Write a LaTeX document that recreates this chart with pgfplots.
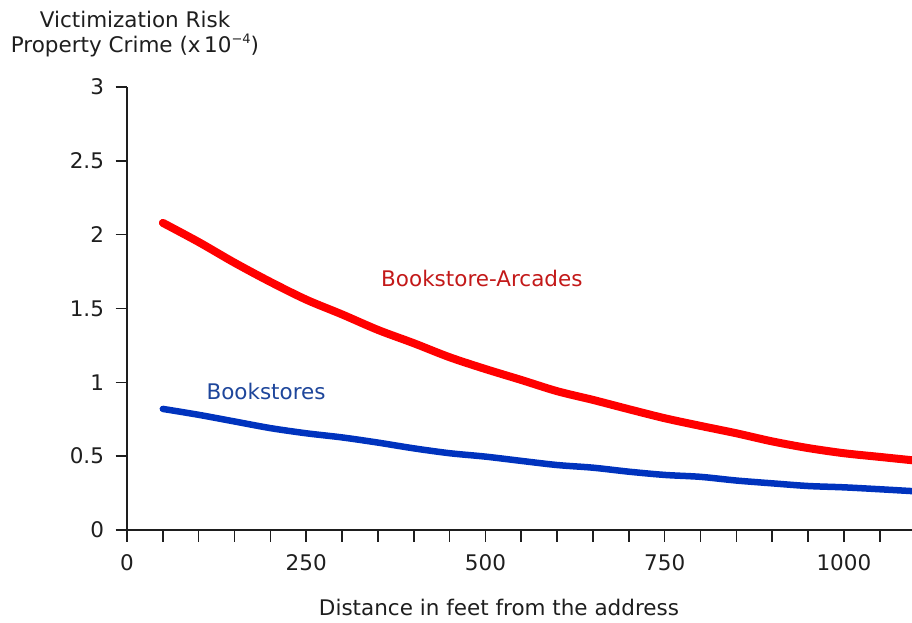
\documentclass[border=0pt]{standalone}
\usepackage{fontspec}
\setmainfont{DejaVu Sans}
\usepackage{pgfplots}
\pgfplotsset{compat=1.18}
\definecolor{redline}{RGB}{255,0,0}
\definecolor{blueline}{RGB}{0,51,190}
\definecolor{redtext}{RGB}{195,25,25}
\definecolor{bluetext}{RGB}{30,70,155}
\definecolor{txt}{RGB}{30,30,30}
\newcommand{\fs}{\fontsize{21.5}{25}\selectfont}
\begin{document}
\begin{tikzpicture}[x=1pt,y=1pt]
\path[use as bounding box] (0,0) rectangle (912,622);
\begin{axis}[
  at={(127pt,92pt)}, anchor=south west,
  scale only axis, width=785pt, height=443pt,
  xmin=0, xmax=1095, ymin=0, ymax=3,
  axis lines=left, axis line style={-, line width=1.6pt, color=txt},
  tick align=outside,
  major tick length=11.5pt, minor tick length=11.5pt,
  every tick/.style={line width=1.6pt, color=txt},
  xtick={0,250,500,750,1000},
  minor xtick={50,100,150,200,300,350,400,450,550,600,650,700,800,850,900,950,1050,1100},
  ytick={0,0.5,1,1.5,2,2.5,3},
  yticklabels={0,0.5,1,1.5,2,2.5,3},
  xticklabels={0,250,500,750,1000},
  tick label style={font=\fs, text=txt},
  xticklabel style={yshift=-10pt},
  yticklabel style={xshift=-8pt},
  /pgf/number format/assume math mode=true,
  clip=true,
]
\addplot[redline, line width=8pt, line cap=round, line join=round, smooth, tension=0.5] coordinates {
(50,2.08) (100,1.95) (150,1.81) (200,1.68) (250,1.56) (300,1.46) (350,1.355)
(400,1.265) (450,1.17) (500,1.09) (550,1.016) (600,0.94) (650,0.881)
(700,0.818) (750,0.757) (800,0.705) (850,0.655) (900,0.60) (950,0.555)
(1000,0.52) (1050,0.495) (1100,0.47)
};
\addplot[blueline, line width=6.5pt, line cap=round, line join=round, smooth, tension=0.5] coordinates {
(50,0.82) (100,0.78) (150,0.735) (200,0.69) (250,0.655) (300,0.627)
(350,0.592) (400,0.553) (450,0.52) (500,0.497) (550,0.468) (600,0.44)
(650,0.422) (700,0.395) (750,0.373) (800,0.36) (850,0.335) (900,0.316)
(950,0.298) (1000,0.289) (1050,0.276) (1100,0.262)
};
\node[anchor=base, text=redtext, font=\fs, inner sep=0pt] at (axis cs:495,1.646) {Bookstore-Arcades};
\node[anchor=base, text=bluetext, font=\fs, inner sep=0pt] at (axis cs:194,0.887) {Bookstores};
\end{axis}
\node[anchor=base, text=txt, font=\fs, inner sep=0pt] at (135,594) {Victimization Risk};
\node[anchor=base, text=txt, font=\fs, inner sep=0pt] at (135,569) {Property Crime (x\,10\raisebox{0.45em}{\fontsize{13}{13}\selectfont −4})};
\node[anchor=base, text=txt, font=\fs, inner sep=0pt] at (499,7) {Distance in feet from the address};
\end{tikzpicture}
\end{document}
